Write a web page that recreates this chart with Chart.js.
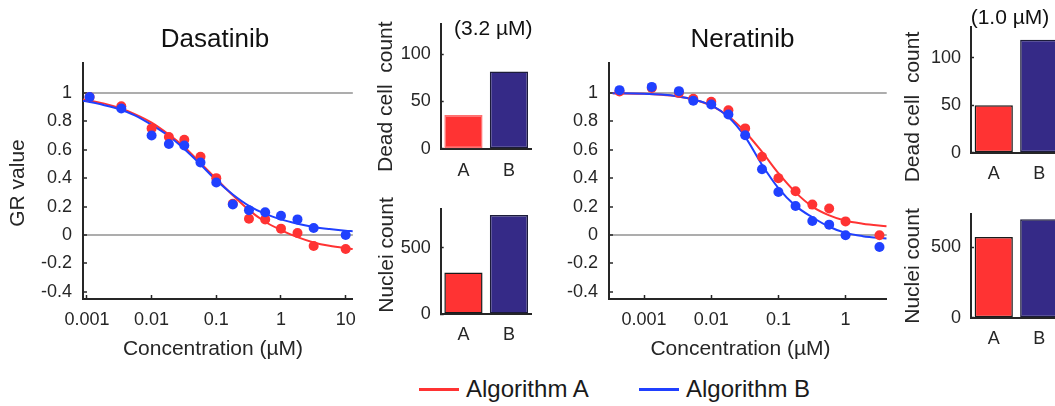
<!DOCTYPE html>
<html>
<head>
<meta charset="utf-8">
<script src="https://cdn.jsdelivr.net/npm/chart.js@4.4.1/dist/chart.umd.min.js"></script>
<style>
  html, body { margin: 0; padding: 0; background: #fff; }
  body { position: relative; width: 1055px; height: 406px; overflow: hidden; font-family: 'Liberation Sans', Arial, sans-serif; color: #1a1a1a; }
  canvas { position: absolute; }
  .lg-line { position: absolute; top: 388px; width: 40px; height: 3px; }
  .lg-txt { position: absolute; top: 375px; font-size: 24px; line-height: 27px; white-space: nowrap; }
</style>
</head>
<body>
<canvas id="dasCurve"></canvas>
<canvas id="dasDeadC"></canvas>
<canvas id="dasNucC"></canvas>
<canvas id="nerCurve"></canvas>
<canvas id="nerDeadC"></canvas>
<canvas id="nerNucC"></canvas>

<div class="lg-line" style="left:419px;background:#ff3333"></div>
<div class="lg-txt" style="left:466px">Algorithm A</div>
<div class="lg-line" style="left:639px;background:#2040ff"></div>
<div class="lg-txt" style="left:686px">Algorithm B</div>

<script>
// ── Data ──
const grTicks = [-0.4, -0.2, 0, 0.2, 0.4, 0.6, 0.8, 1];

const dasXTicks = [0.001, 0.01, 0.1, 1, 10];
const dasXLabels = ['0.001', '0.01', '0.1', '1', '10'];
const dasDoses = [0.0011, 0.0034, 0.01, 0.0185, 0.032, 0.057, 0.1, 0.18, 0.32, 0.57, 1, 1.8, 3.2, 10];
const dasGrA = [0.97, 0.905, 0.75, 0.69, 0.67, 0.55, 0.40, 0.22, 0.115, 0.11, 0.045, 0.014, -0.077, -0.098];
const dasGrB = [0.97, 0.89, 0.70, 0.64, 0.63, 0.51, 0.37, 0.215, 0.175, 0.16, 0.135, 0.11, 0.05, 0.0];
const dasFitX = [0.00087, 0.0018, 0.0032, 0.0056, 0.01, 0.018, 0.032, 0.056, 0.1, 0.18, 0.32, 0.56, 1, 1.8, 3.2, 5.6, 10, 12.9];
const dasFitA = [0.954, 0.926, 0.893, 0.848, 0.79, 0.71, 0.62, 0.51, 0.395, 0.28, 0.175, 0.095, 0.035, -0.015, -0.052, -0.076, -0.093, -0.099];
const dasFitB = [0.945, 0.915, 0.885, 0.84, 0.775, 0.70, 0.605, 0.50, 0.385, 0.285, 0.205, 0.15, 0.11, 0.08, 0.057, 0.042, 0.03, 0.027];

const nerXTicks = [0.001, 0.01, 0.1, 1];
const nerXLabels = ['0.001', '0.01', '0.1', '1'];
const nerDoses = [0.00043, 0.0013, 0.0033, 0.0054, 0.01, 0.018, 0.032, 0.057, 0.1, 0.18, 0.32, 0.57, 1, 3.2];
const nerGrA = [1.01, 1.035, 1.0, 0.958, 0.937, 0.878, 0.75, 0.55, 0.40, 0.308, 0.214, 0.186, 0.096, -0.002];
const nerGrB = [1.019, 1.042, 1.012, 0.944, 0.918, 0.848, 0.702, 0.463, 0.303, 0.204, 0.099, 0.073, -0.002, -0.084];
const nerFitX = [0.00034, 0.001, 0.0018, 0.0032, 0.0056, 0.01, 0.018, 0.032, 0.056, 0.1, 0.18, 0.32, 0.56, 1, 1.8, 4.1];
const nerFitA = [0.997, 0.993, 0.987, 0.975, 0.952, 0.91, 0.835, 0.725, 0.59, 0.435, 0.30, 0.20, 0.14, 0.10, 0.08, 0.062];
const nerFitB = [0.998, 0.994, 0.988, 0.975, 0.952, 0.912, 0.83, 0.69, 0.50, 0.33, 0.205, 0.125, 0.06, 0.015, -0.008, -0.025];

const barCats = ['A', 'B'];
const deadTicks = [0, 50, 100];
const nucTicks = [0, 500];
const dasDead = [35.5, 81.5];
const dasNuclei = [313, 748];
const nerDead = [50, 119];
const nerNuclei = [574, 702];

// ── Style ──
const RED = '#ff3333', BLUE = '#2040ff', NAVY = '#352a87', INK = '#262626';
const FONT = "'Liberation Sans', Arial, sans-serif";
Chart.defaults.font.family = FONT;
Chart.defaults.color = INK;
Chart.defaults.animation = false;

const pts = (xs, ys) => xs.map((x, i) => ({ x, y: ys[i] }));

function textPlugin(items, ox, oy) {
    return {
        id: 'txt',
        afterDraw(chart) {
            const ctx = chart.ctx;
            items.forEach(t => {
                ctx.save();
                ctx.font = t.size + 'px ' + FONT;
                ctx.fillStyle = t.color || INK;
                ctx.textAlign = 'center';
                ctx.textBaseline = 'middle';
                ctx.translate(t.x - ox, t.y - oy);
                if (t.rot) ctx.rotate(-Math.PI / 2);
                ctx.fillText(t.text, 0, 0);
                ctx.restore();
            });
        }
    };
}

// box = canvas rect on the page, area = wanted plot area on the page
function place(id, box, area) {
    const cv = document.getElementById(id);
    cv.width = box.w; cv.height = box.h;
    cv.style.left = box.x + 'px'; cv.style.top = box.y + 'px';
    return {
        ctx: cv.getContext('2d'),
        padding: { left: 0, bottom: 0, top: area.top - box.y, right: box.x + box.w - area.right },
        yW: area.left - box.x,
        xH: box.y + box.h - area.bottom
    };
}

function curveChart(id, box, area, d) {
    const p = place(id, box, area);
    return new Chart(p.ctx, {
        type: 'scatter',
        data: {
            datasets: [
                { data: pts(d.doses, d.grB), backgroundColor: BLUE, pointRadius: 5, pointBorderWidth: 0, order: 0 },
                { data: pts(d.doses, d.grA), backgroundColor: RED, pointRadius: 5, pointBorderWidth: 0, order: 1 },
                { data: pts(d.fitX, d.fitB), showLine: true, borderColor: BLUE, borderWidth: 2, pointRadius: 0, cubicInterpolationMode: 'monotone', order: 2 },
                { data: pts(d.fitX, d.fitA), showLine: true, borderColor: RED, borderWidth: 2, pointRadius: 0, cubicInterpolationMode: 'monotone', order: 3 }
            ]
        },
        options: {
            responsive: false,
            layout: { padding: p.padding },
            plugins: { legend: { display: false }, tooltip: { enabled: false } },
            scales: {
                x: {
                    type: 'logarithmic', min: d.xMin, max: d.xMax,
                    afterBuildTicks: s => { s.ticks = d.xTicks.map(v => ({ value: v })); },
                    afterFit: s => { s.height = p.xH; },
                    ticks: { padding: 14, font: { size: 18 }, maxRotation: 0, autoSkip: false, callback: v => d.xLabels[d.xTicks.indexOf(v)] },
                    grid: { drawOnChartArea: false, tickLength: -4, tickColor: INK, tickWidth: 1.5 },
                    border: { color: INK, width: 2 }
                },
                y: {
                    min: -0.45, max: 1.21,
                    afterBuildTicks: s => { s.ticks = grTicks.map(v => ({ value: v })); },
                    afterFit: s => { s.width = p.yW; },
                    ticks: { padding: 15, font: { size: 18 }, callback: v => String(+v.toFixed(1)) },
                    grid: {
                        color: c => (c.tick && (c.tick.value === 0 || c.tick.value === 1)) ? '#adadad' : 'rgba(0,0,0,0)',
                        lineWidth: 2, tickLength: -4, tickColor: INK, tickWidth: 1.5
                    },
                    border: { color: INK, width: 2 }
                }
            }
        },
        plugins: [textPlugin(d.texts, box.x, box.y)]
    });
}

function barChart(id, box, area, d) {
    const p = place(id, box, area);
    return new Chart(p.ctx, {
        type: 'bar',
        data: {
            labels: barCats,
            datasets: [{
                data: d.values,
                backgroundColor: [RED, NAVY],
                borderColor: d.borders,
                borderWidth: 1.5,
                borderSkipped: false,
                categoryPercentage: 1,
                barPercentage: 0.84
            }]
        },
        options: {
            responsive: false,
            layout: { padding: p.padding },
            plugins: { legend: { display: false }, tooltip: { enabled: false } },
            scales: {
                x: {
                    afterFit: s => { s.height = p.xH; },
                    ticks: { padding: d.xPad, font: { size: 18 } },
                    grid: { display: false, drawTicks: false },
                    border: { color: INK, width: 2 }
                },
                y: {
                    min: 0, max: d.yMax,
                    afterBuildTicks: s => { s.ticks = d.yTicks.map(v => ({ value: v })); },
                    afterFit: s => { s.width = p.yW; },
                    ticks: { padding: 13, font: { size: 18 } },
                    grid: { drawOnChartArea: false, tickLength: -3, tickColor: INK, tickWidth: 1.5 },
                    border: { color: INK, width: 2 }
                }
            }
        },
        plugins: [textPlugin(d.texts, box.x, box.y)]
    });
}

// ── Dasatinib ──
curveChart('dasCurve', { x: 0, y: 0, w: 370, h: 365 }, { left: 83, right: 358, top: 63, bottom: 299 }, {
    doses: dasDoses, grA: dasGrA, grB: dasGrB, fitX: dasFitX, fitA: dasFitA, fitB: dasFitB,
    xMin: 0.00087, xMax: 12.9, xTicks: dasXTicks, xLabels: dasXLabels,
    texts: [
        { text: 'Dasatinib', x: 215, y: 40, size: 26, color: '#111' },
        { text: 'Concentration (µM)', x: 213, y: 349, size: 21 },
        { text: 'GR value', x: 18.5, y: 183, size: 21, rot: true }
    ]
});
barChart('dasDeadC', { x: 370, y: 0, w: 180, h: 185 }, { left: 440.7, right: 531.7, top: 23.3, bottom: 148.7 }, {
    values: dasDead, borders: ['#ff7070', '#1c1c3a'], yMax: 132, yTicks: deadTicks, xPad: 12,
    texts: [
        { text: 'Dead cell  count', x: 386, y: 96.7, size: 21, rot: true },
        { text: '(3.2 µM)', x: 493.3, y: 29, size: 21, color: '#111' }
    ]
});
barChart('dasNucC', { x: 370, y: 185, w: 180, h: 165 }, { left: 440.7, right: 531.7, top: 189, bottom: 314 }, {
    values: dasNuclei, borders: ['#1a1a1a', '#1c1c3a'], yMax: 794, yTicks: nucTicks, xPad: 10.5,
    texts: [
        { text: 'Nuclei count', x: 387, y: 255, size: 21, rot: true }
    ]
});

// ── Neratinib ──
curveChart('nerCurve', { x: 560, y: 0, w: 340, h: 365 }, { left: 609, right: 886.7, top: 63, bottom: 299 }, {
    doses: nerDoses, grA: nerGrA, grB: nerGrB, fitX: nerFitX, fitA: nerFitA, fitB: nerFitB,
    xMin: 0.00034, xMax: 4.1, xTicks: nerXTicks, xLabels: nerXLabels,
    texts: [
        { text: 'Neratinib', x: 742.5, y: 40, size: 26, color: '#111' },
        { text: 'Concentration (µM)', x: 740.5, y: 349, size: 21 }
    ]
});
barChart('nerDeadC', { x: 900, y: 0, w: 200, h: 190 }, { left: 971, right: 1062, top: 27.3, bottom: 152.7 }, {
    values: nerDead, borders: ['#1a1a1a', '#1c1c3a'], yMax: 132, yTicks: deadTicks, xPad: 10.3,
    texts: [
        { text: 'Dead cell  count', x: 913.3, y: 107, size: 21, rot: true },
        { text: '(1.0 µM)', x: 1010, y: 18.3, size: 21, color: '#111' }
    ]
});
barChart('nerNucC', { x: 900, y: 190, w: 200, h: 165 }, { left: 971, right: 1062, top: 201.7, bottom: 317.7 }, {
    values: nerNuclei, borders: ['#1a1a1a', '#1c1c3a'], yMax: 740, yTicks: nucTicks, xPad: 10.3,
    texts: [
        { text: 'Nuclei count', x: 913, y: 266, size: 21, rot: true }
    ]
});
</script>
</body>
</html>
